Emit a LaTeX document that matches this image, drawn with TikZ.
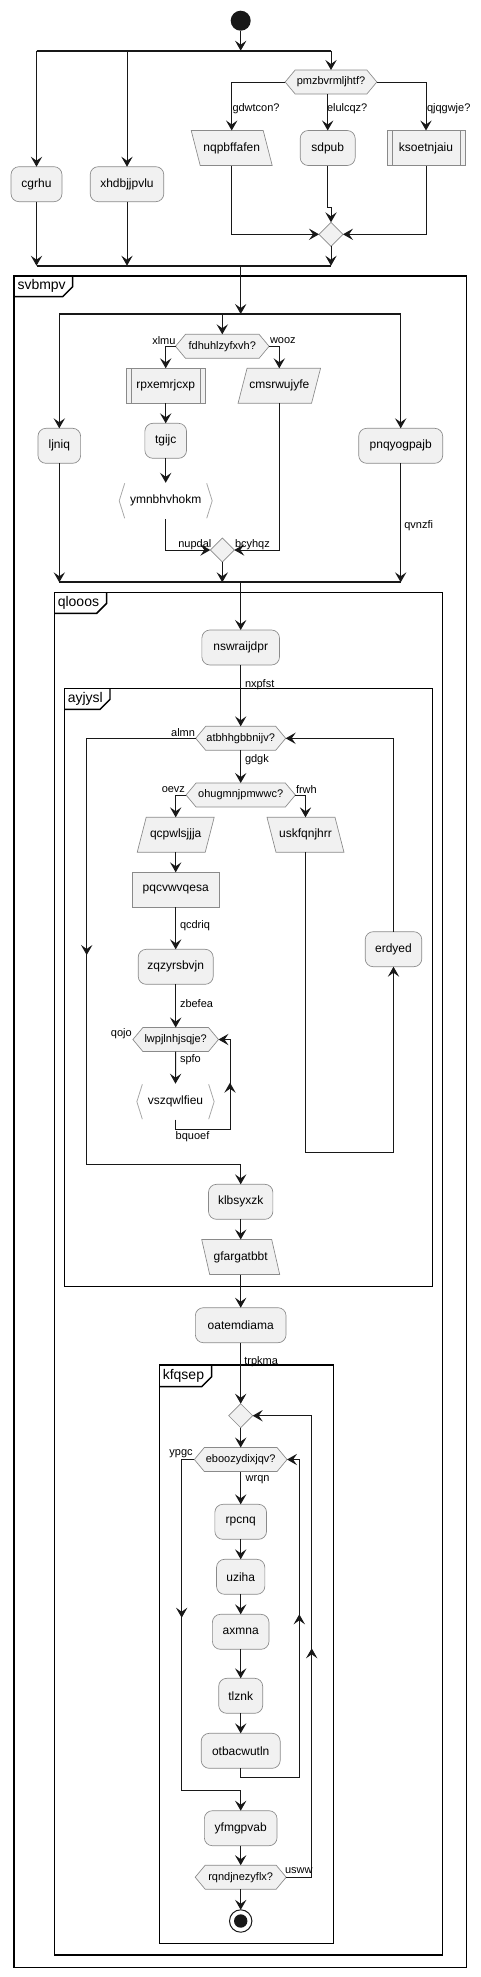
\documentclass[tikz,border=0pt]{standalone}
\usepackage{fontspec}
\setmainfont{Liberation Sans}
\usetikzlibrary{arrows.meta,shapes.geometric,calc}
\definecolor{boxf}{HTML}{F1F1F1}
\definecolor{bord}{HTML}{8A8A8A}
\definecolor{lnc}{HTML}{181818}
\definecolor{brkc}{HTML}{A8A8A8}
\tikzset{
 every node/.style={inner sep=0pt, outer sep=0pt},
 act/.style={draw=bord, fill=boxf, rounded corners=6pt, minimum height=35*0.75pt, font=\fontsize{9}{11}\selectfont, line width=0.5pt},
 rectbox/.style={act, rounded corners=0pt},
 plain/.style={minimum height=35*0.75pt, font=\fontsize{9}{11}\selectfont},
 hextxt/.style={minimum height=24*0.75pt, font=\fontsize{8.25}{10}\selectfont},
 shp/.style={draw=bord, fill=boxf, line width=0.5pt},
 mrg/.style={diamond, aspect=1, draw=bord, fill=boxf, line width=0.5pt, minimum width=24*0.75pt, minimum height=24*0.75pt},
 ln/.style={draw=lnc, line width=0.75pt},
 arr/.style={ln, -{Stealth[length=7.5pt,width=8.5pt,inset=3pt]}},
 lbl/.style={font=\fontsize{8.25}{10}\selectfont, inner sep=0pt},
 bar/.style={draw=lnc, line width=1.6pt},
 frm/.style={draw=black, line width=1.1pt},
 ftitle/.style={font=\fontsize{10.5}{12}\selectfont, anchor=west},
 brkline/.style={draw=brkc, line width=0.6pt},
}
\newcommand{\actb}[5]{\node[act, minimum width=#4*0.75pt] (#1) at (#2,#3) {#5};}
\newcommand{\hexd}[5]{%
 \path[shp] ({#2-#4/2},#3) -- ({#2-#4/2+10},{#3-12}) -- ({#2+#4/2-10},{#3-12}) -- ({#2+#4/2},#3) -- ({#2+#4/2-10},{#3+12}) -- ({#2-#4/2+10},{#3+12}) -- cycle;
 \node[hextxt, minimum width=#4*0.75pt] (#1) at (#2,#3) {#5};}
\newcommand{\iob}[6]{%
 \path[shp] ({#2-#4/2+(#5)},{#3-17.5}) -- ({#2+#4/2+(#5)},{#3-17.5}) -- ({#2+#4/2-(#5)},{#3+17.5}) -- ({#2-#4/2-(#5)},{#3+17.5}) -- cycle;
 \node[plain, minimum width=#4*0.75pt] (#1) at (#2,#3) {#6};}
\newcommand{\subb}[5]{%
 \node[rectbox, minimum width=#4*0.75pt] (#1) at (#2,#3) {#5};
 \draw[draw=bord, line width=0.5pt] ([xshift=3.75pt]#1.north west) -- ([xshift=3.75pt]#1.south west) ([xshift=-3.75pt]#1.north east) -- ([xshift=-3.75pt]#1.south east);}
\newcommand{\brk}[5]{%
 \node[plain, minimum width=#4*0.75pt, minimum height=36*0.75pt] (#1) at (#2,#3) {#5};
 \draw[brkline] ({#2-#4/2+5.5},{#3-17.5}) -- ({#2-#4/2},#3) -- ({#2-#4/2+5.5},{#3+17.5});
 \draw[brkline] ({#2+#4/2-5.5},{#3-17.5}) -- ({#2+#4/2},#3) -- ({#2+#4/2-5.5},{#3+17.5});}
\newcommand{\frmbox}[8]{%
 \draw[frm] (#2,#3) rectangle (#4,#5);
 \draw[frm] (#2,#7) -- ({#6-10},#7) -- (#6,{#7-10}) -- (#6,#3);
 \node[ftitle] (#1) at ({#2+3.5},{(#3+#7)/2}) {#8};}
\begin{document}
\begin{tikzpicture}[x=0.75pt,y=-0.75pt]
\useasboundingbox (0,0) rectangle (481,1977);
% frames
\frmbox{fsv}{14}{276}{466.7}{1967.7}{72.7}{296.7}{svbmpv}
\frmbox{fql}{54.3}{592.7}{442.7}{1955}{106.7}{613.3}{qlooos}
\frmbox{fay}{64.3}{688.3}{432.7}{1286.7}{110}{709.3}{ayjysl}
\frmbox{fkf}{159.3}{1365}{333.3}{1943.3}{211.7}{1386.7}{kfqsep}
% ---------- top
\node[circle, fill=lnc, minimum size=20*0.75pt] (start) at (240.7,20.7) {};
\coordinate (f1L) at (36.5,50.7); \coordinate (f1B) at (127,50.7);
\coordinate (f1M) at (240.7,50.7); \coordinate (f1R) at (331,50.7);
\draw[arr] (start) -- (f1M);
\draw[bar] (f1L) -- (f1R);
\actb{cgrhu}{36.5}{184.2}{51}{cgrhu}
\actb{xhd}{127}{184.2}{73.6}{xhdbjjpvlu}
\hexd{pmz}{331}{82}{91.7}{pmzbvrmljhtf?}
\iob{nqp}{231.7}{148}{72}{-4.5}{nqpbffafen}
\actb{sdp}{327.7}{148}{55}{sdpub}
\subb{kso}{426}{148}{77.7}{ksoetnjaiu}
\node[mrg] (m1) at (331,234.3) {};
\draw[arr] (f1L) -- (cgrhu.north);
\draw[arr] (f1B) -- (xhd.north);
\draw[arr] (f1R) -- (pmz.north);
\draw[arr] (pmz.west) -| (nqp.north);
\draw[arr] (pmz.south -| sdp.north) -- (sdp.north);
\draw[arr] (pmz.east) -| (kso.north);
\draw[arr] (nqp.south) |- (m1.west);
\draw[arr] (kso.south) |- (m1.east);
\coordinate (j1) at (327.7,207.7); \coordinate (j2) at (331,207.7);
\draw[arr] (sdp.south) -- (j1) -- (j2) -- (m1.north);
\node[lbl, anchor=west] (lgd) at (232.5,108.3) {gdwtcon?};
\node[lbl, anchor=west] (lel) at (327,108.3) {elulcqz?};
\node[lbl, anchor=west] (lqj) at (427,108.3) {qjqgwje?};
\coordinate (f2L) at (36.5,265.7); \coordinate (f2B) at (127,265.7);
\coordinate (f2M) at (240.7,265.7); \coordinate (f2R) at (331,265.7);
\draw[arr] (cgrhu.south) -- (f2L);
\draw[arr] (xhd.south) -- (f2B);
\draw[arr] (m1.south) -- (f2R);
\draw[bar] (f2L) -- (f2R);
\coordinate (f3L) at (59.3,314); \coordinate (f3C) at (222.3,314);
\coordinate (f3M) at (240.7,314); \coordinate (f3R) at (400.7,314);
\draw[arr] (f2M) -- (f3M);
\draw[bar] (f3L) -- (f3R);
% ---------- svbmpv
\actb{lji}{59.3}{445.8}{42.7}{ljniq}
\actb{pnq}{400.7}{445.8}{84}{pnqyogpajb}
\hexd{fdh}{222.3}{346.3}{93.6}{fdhuhlzyfxvh?}
\subb{rpx}{165.7}{385.8}{78.3}{rpxemrjcxp}
\iob{cms}{279.3}{385.8}{73.5}{4.5}{cmsrwujyfe}
\actb{tgi}{165.7}{440.8}{41.7}{tgijc}
\brk{ymn}{165.7}{500.8}{93}{ymnbhvhokm}
\node[mrg] (m2) at (222.3,550) {};
\draw[arr] (f3L) -- (lji.north);
\draw[arr] (f3C) -- (fdh.north);
\draw[arr] (f3R) -- (pnq.north);
\draw[arr] (fdh.west) -| (rpx.north);
\draw[arr] (fdh.east) -| (cms.north);
\draw[arr] (rpx.south) -- (tgi.north);
\draw[arr] (tgi.south) -- (ymn.north);
\draw[arr] (ymn.south) |- (m2.west);
\draw[arr] (cms.south) |- (m2.east);
\node[lbl, anchor=east] (lxl) at (175.5,340.7) {xlmu};
\node[lbl, anchor=west] (lwo) at (270,340.7) {wooz};
\node[lbl, anchor=west] (lnu) at (178.3,544.3) {nupdal};
\node[lbl, anchor=west] (lbc) at (235,544.3) {bcyhqz};
\node[lbl, anchor=west] (lqv) at (404.3,525.7) {qvnzfi};
\coordinate (f4L) at (59.3,582.3); \coordinate (f4C) at (222.3,582.3);
\coordinate (f4M) at (240.7,582.3); \coordinate (f4R) at (400.7,582.3);
\draw[arr] (lji.south) -- (f4L);
\draw[arr] (m2.south) -- (f4C);
\draw[arr] (pnq.south) -- (f4R);
\draw[bar] (f4L) -- (f4R);
% ---------- qlooos / ayjysl
\actb{nsw}{240.7}{647.5}{77.6}{nswraijdpr}
\hexd{atb}{240.7}{738.3}{90}{atbhhgbbnijv?}
\hexd{ohu}{240.7}{795}{109.3}{ohugmnjpmwwc?}
\iob{qcp}{175.7}{834.8}{68}{4.5}{qcpwlsjjja}
\iob{usk}{305.5}{834.8}{68}{-4.5}{uskfqnjhrr}
\node[rectbox, minimum width=87*0.75pt] (pqc) at (175.7,889.8) {pqcvwvqesa};
\actb{zqz}{175.7}{966.8}{75}{zqzyrsbvjn}
\actb{erd}{393.5}{949.2}{56.6}{erdyed}
\hexd{lwp}{175.7}{1039.5}{85.6}{lwpjlnhjsqje?}
\brk{vsz}{175.5}{1101.7}{77.3}{vszqwlfieu}
\actb{klb}{240.7}{1201.8}{64.4}{klbsyxzk}
\iob{gfa}{240.7}{1257}{70}{-4}{gfargatbbt}
\actb{oat}{240.7}{1325.2}{90.7}{oatemdiama}
\draw[arr] (f4M) -- (nsw.north);
\draw[arr] (nsw.south) -- (atb.north);
\node[lbl, anchor=west] (lnx) at (245,685) {nxpfst};
\coordinate (a1) at (86.7,738.3); \coordinate (a2) at (86.7,1164.3); \coordinate (a3) at (240.7,1164.3);
\coordinate (at0) at (86.7,943); \coordinate (at1) at (86.7,955);
\draw[arr] (atb.west) -- (a1) -- (a2) -- (a3) -- (klb.north);
\draw[arr] (at0) -- (at1);
\node[lbl, anchor=east] (lal) at (195,732.7) {almn};
\draw[arr] (atb.south) -- (ohu.north);
\node[lbl, anchor=west] (lgk) at (245,759.3) {gdgk};
\draw[arr] (ohu.west) -| (qcp.north);
\draw[arr] (ohu.east) -| (usk.north);
\node[lbl, anchor=east] (loe) at (185,789.3) {oevz};
\node[lbl, anchor=west] (lfr) at (296,789.3) {frwh};
\draw[arr] (qcp.south) -- (pqc.north);
\draw[arr] (pqc.south) -- (zqz.north);
\node[lbl, anchor=west] (lqc) at (180,926) {qcdriq};
\draw[arr] (zqz.south) -- (lwp.north);
\node[lbl, anchor=west] (lzb) at (180,1004) {zbefea};
\draw[arr] (lwp.south) -- (vsz.north);
\node[lbl, anchor=west] (lsp) at (180,1059.3) {spfo};
\node[lbl, anchor=east] (lqo) at (131.7,1033.3) {qojo};
\coordinate (v1) at (175.5,1129); \coordinate (v2) at (230,1129); \coordinate (v3) at (230,1039.5);
\coordinate (vt0) at (230,1094); \coordinate (vt1) at (230,1082.7);
\draw[arr] (vsz.south) -- (v1) -- (v2) -- (v3) -- (lwp.east);
\draw[arr] (vt0) -- (vt1);
\node[lbl, anchor=west] (lbq) at (175.7,1136.7) {bquoef};
\coordinate (u1) at (305.5,1152.3); \coordinate (u2) at (393.5,1152.3);
\draw[arr] (usk.south) -- (u1) -- (u2) -- (erd.south);
\draw[arr] (erd.north) |- (atb.east);
\draw[arr] (klb.south) -- (gfa.north);
\draw[arr] (gfa.south) -- (oat.north);
% ---------- kfqsep
\node[mrg] (m3) at (240.7,1415.7) {};
\hexd{ebo}{240.7}{1459.5}{92.7}{eboozydixjqv?}
\actb{rpc}{240.7}{1521.8}{51.7}{rpcnq}
\actb{uzi}{240.7}{1576.8}{48.3}{uziha}
\actb{axm}{240.7}{1631.8}{56.6}{axmna}
\actb{tlz}{240.7}{1695.8}{44}{tlznk}
\actb{otb}{240.7}{1750.8}{79}{otbacwutln}
\actb{yfm}{240.7}{1828.2}{72.7}{yfmgpvab}
\hexd{rqn}{240.7}{1877.2}{91}{rqndjnezyflx?}
\node[circle, draw=lnc, fill=white, line width=0.75pt, minimum size=22.4*0.75pt] (endo) at (240.7,1921) {};
\node[circle, fill=lnc, minimum size=13.4*0.75pt] (endi) at (240.7,1921) {};
\draw[arr] (oat.south) -- (m3.north);
\node[lbl, anchor=west] (ltr) at (244.3,1361.7) {trpkma};
\draw[arr] (m3.south) -- (ebo.north);
\coordinate (e1) at (181.7,1459.5); \coordinate (e2) at (181.7,1790); \coordinate (e3) at (240.7,1790);
\coordinate (et0) at (181.7,1606); \coordinate (et1) at (181.7,1617.7);
\draw[arr] (ebo.west) -- (e1) -- (e2) -- (e3) -- (yfm.north);
\draw[arr] (et0) -- (et1);
\node[lbl, anchor=east] (lyp) at (192.7,1453.3) {ypgc};
\draw[arr] (ebo.south) -- (rpc.north);
\node[lbl, anchor=west] (lwr) at (245.7,1479.3) {wrqn};
\draw[arr] (rpc.south) -- (uzi.north);
\draw[arr] (uzi.south) -- (axm.north);
\draw[arr] (axm.south) -- (tlz.north);
\draw[arr] (tlz.south) -- (otb.north);
\coordinate (o1) at (240.7,1777.7); \coordinate (o2) at (299.3,1777.7); \coordinate (o3) at (299.3,1459.5);
\coordinate (ot0) at (299.3,1626); \coordinate (ot1) at (299.3,1614.3);
\draw[arr] (otb.south) -- (o1) -- (o2) -- (o3) -- (ebo.east);
\draw[arr] (ot0) -- (ot1);
\draw[arr] (yfm.south) -- (rqn.north);
\coordinate (r1) at (311.7,1877.2); \coordinate (r2) at (311.7,1415.7);
\coordinate (rt0) at (311.7,1660); \coordinate (rt1) at (311.7,1648.3);
\draw[arr] (rqn.east) -- (r1) -- (r2) -- (m3.east);
\draw[arr] (rt0) -- (rt1);
\node[lbl, anchor=west] (lus) at (285,1871) {usww};
\draw[arr] (rqn.south) -- (endo.north);
\end{tikzpicture}
\end{document}
